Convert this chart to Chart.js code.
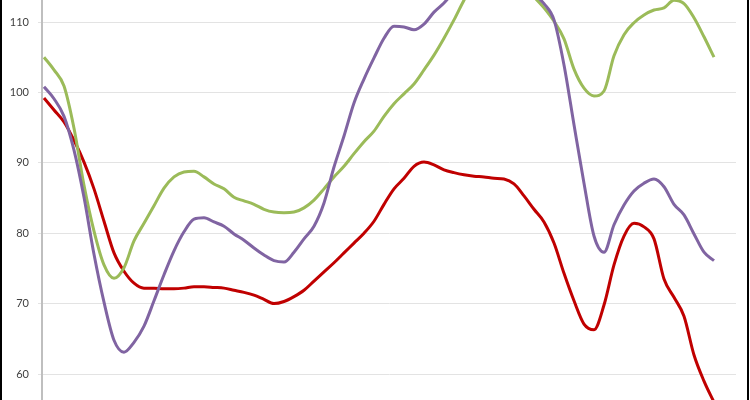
<!DOCTYPE html>
<html>
<head>
<meta charset="utf-8">
<script src="https://cdn.jsdelivr.net/npm/chart.js@4/dist/chart.umd.min.js"></script>
<style>
  html, body { margin: 0; padding: 0; background: #ffffff; }
  #wrap { position: relative; width: 750px; height: 400px; }
</style>
</head>
<body>
<div id="wrap"><canvas id="c" width="750" height="400"></canvas></div>
<script>
// Period index (x positions of samples)
const periods = Array.from({length: 68}, (_, i) => i);

// Y-axis tick labels
const yTicks = [60, 70, 80, 90, 100, 110];

const redSeries = [
  99.2, 97.5, 95.8, 93.2, 90.1, 86.3, 81.7, 77.2, 74.6, 72.9,
  72.2, 72.2, 72.1, 72.1, 72.2, 72.4, 72.4, 72.3, 72.2, 71.9,
  71.6, 71.2, 70.6, 70.0, 70.3, 71.0, 71.9, 73.2, 74.5, 75.8,
  77.2, 78.6, 80.0, 81.7, 84.1, 86.3, 87.8, 89.5, 90.1, 89.7,
  89.0, 88.6, 88.3, 88.1, 88.0, 87.8, 87.7, 87.0, 85.3, 83.4,
  81.6, 78.6, 74.3, 70.4, 67.1, 66.3, 69.8, 75.5, 79.6, 81.4,
  80.9, 79.2, 73.5, 70.9, 68.2, 62.7, 59.0, 56.0
];

const purpleSeries = [
  100.8, 99.1, 96.6, 91.8, 85.1, 77.0, 70.2, 64.8, 63.1, 64.5,
  66.8, 70.4, 74.1, 77.5, 80.2, 82.0, 82.2, 81.6, 81.0, 79.9,
  79.0, 77.9, 76.9, 76.1, 75.9, 77.3, 79.2, 81.0, 84.3, 89.4,
  93.8, 98.5, 101.9, 104.9, 107.7, 109.4, 109.3, 108.9, 109.7, 111.4,
  112.7, 114.3, 115.5, 116.5, 117.0, 117.2, 117.0, 116.5, 115.5, 114.0,
  112.6, 110.3, 103.9, 95.4, 87.1, 79.6, 77.3, 81.2, 84.0, 86.0,
  87.1, 87.7, 86.6, 84.1, 82.6, 79.9, 77.3, 76.1
];

const greenSeries = [
  105.0, 103.2, 100.9, 94.9, 86.8, 80.3, 75.5, 73.6, 75.1, 78.9,
  81.4, 83.9, 86.4, 88.0, 88.7, 88.8, 88.0, 87.0, 86.3, 85.1,
  84.6, 84.1, 83.4, 83.0, 82.9, 83.0, 83.6, 84.7, 86.3, 88.0,
  89.5, 91.3, 93.0, 94.5, 96.6, 98.4, 99.8, 101.2, 103.2, 105.3,
  107.7, 110.3, 113.1, 115.5, 117.0, 118.0, 118.0, 117.2, 115.7, 113.6,
  112.0, 110.1, 107.6, 103.3, 100.6, 99.5, 100.2, 105.2, 108.2, 109.9,
  111.0, 111.7, 112.0, 113.1, 112.6, 110.6, 107.9, 105.0
];

const toPoints = (arr) => arr.map((v, i) => ({x: periods[i], y: v}));

const frame = {
  id: 'frame',
  afterDraw(chart) {
    const ctx = chart.ctx;
    ctx.save();
    ctx.fillStyle = '#000000';
    ctx.fillRect(0, 0, 2, 400);
    ctx.fillRect(747, 0, 2, 400);
    ctx.restore();
  }
};

new Chart(document.getElementById('c'), {
  type: 'line',
  data: {
    datasets: [
      { label: 'Series 1', data: toPoints(redSeries), borderColor: '#c00000', order: 3 },
      { label: 'Series 2', data: toPoints(greenSeries), borderColor: '#9bbb59', order: 2 },
      { label: 'Series 3', data: toPoints(purpleSeries), borderColor: '#8064a2', order: 1 }
    ]
  },
  options: {
    responsive: false,
    animation: false,
    layout: { padding: { left: 0, right: 14, top: 0, bottom: 0 } },
    elements: {
      point: { radius: 0 },
      line: { borderWidth: 3, cubicInterpolationMode: 'monotone', fill: false }
    },
    plugins: { legend: { display: false }, tooltip: { enabled: false } },
    scales: {
      x: {
        type: 'linear',
        display: false,
        min: -0.2,
        max: 69.2
      },
      y: {
        type: 'linear',
        min: 56.31,
        max: 113.125,
        afterBuildTicks(scale) {
          scale.ticks = yTicks.map(v => ({ value: v }));
        },
        afterFit(scale) {
          scale.width = 42;
          scale.paddingTop = 0;
          scale.paddingBottom = 0;
        },
        border: { display: true, color: '#bfbfbf', width: 2 },
        grid: { color: '#e3e3e3', lineWidth: 1, tickLength: 4, drawTicks: true },
        ticks: {
          padding: 9,
          color: '#404040',
          font: { family: 'Lato', size: 11 }
        }
      }
    }
  },
  plugins: [frame]
});
</script>
</body>
</html>
